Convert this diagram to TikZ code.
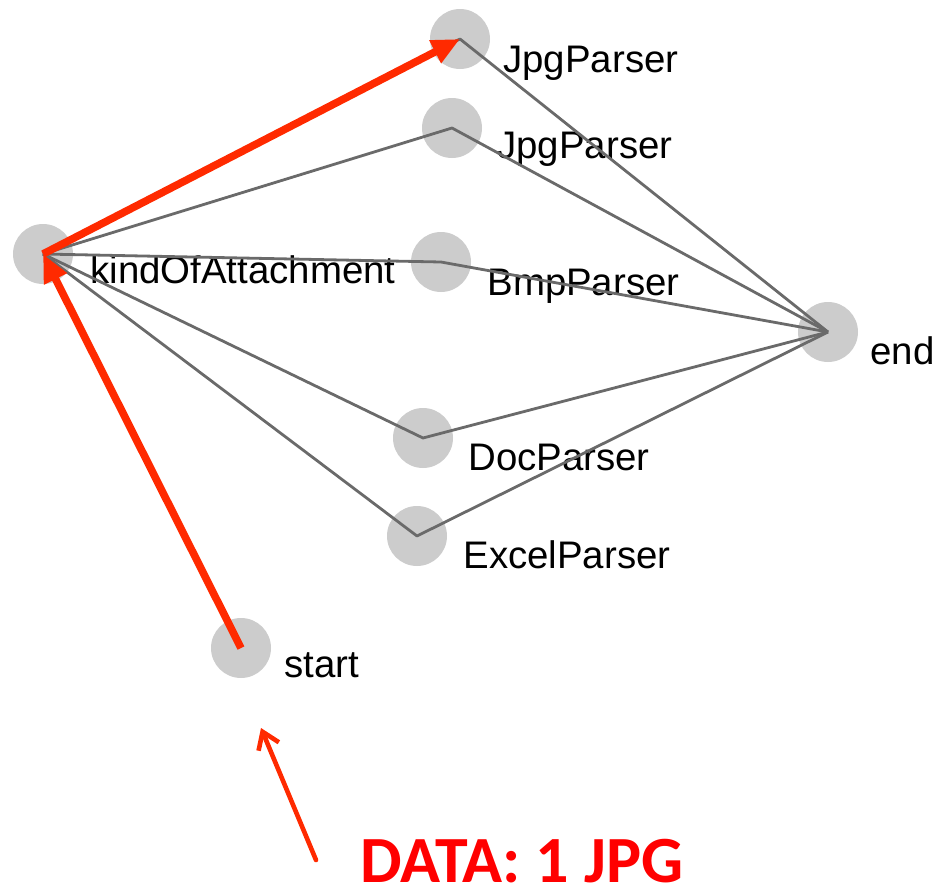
\documentclass[tikz,border=0pt]{standalone}
\usepackage{fontspec}
\setmainfont{Liberation Sans}
\newfontfamily\calloutfont{Carlito}
\usetikzlibrary{arrows.meta}
\definecolor{dotgray}{HTML}{CCCCCC}
\definecolor{edgegray}{HTML}{6A6A6A}
\definecolor{markred}{HTML}{FF2A00}
\definecolor{callred}{HTML}{FF0000}
\begin{document}
\begin{tikzpicture}[x=0.5pt,y=-0.5pt,
  dot/.style={circle,fill=dotgray,minimum size=30pt,inner sep=0pt},
  lbl/.style={anchor=base west,inner sep=0pt,font=\fontsize{19.2}{23}\selectfont},
  edge/.style={draw=edgegray,line width=1.4pt,line join=round},
  hl/.style={draw=markred,line width=3.8pt,-{Triangle[length=14pt,width=12pt]}},
  hint/.style={draw=markred,line width=2.3pt,line cap=round,-{Straight Barb[length=8pt,width=11pt,line width=2.3pt]}}]
\useasboundingbox (0,0) rectangle (938,889);

% vertices of the workflow graph
\node[dot] (kind)  at (43,254)  {};
\node[dot] (jpga)  at (460,39)  {};
\node[dot] (jpgb)  at (452,128) {};
\node[dot] (bmp)   at (441,262) {};
\node[dot] (doc)   at (423,438) {};
\node[dot] (xls)   at (417,536) {};
\node[dot] (fin)   at (828,332) {};
\node[dot] (start) at (241,648) {};

% vertex labels
\node[lbl] (kindl)  at (90,283)  {kindOfAttachment};
\node[lbl] (jpgal)  at (503,72)  {JpgParser};
\node[lbl] (jpgbl)  at (497,158) {JpgParser};
\node[lbl] (bmpl)   at (487,295) {BmpParser};
\node[lbl] (docl)   at (468,470) {DocParser};
\node[lbl] (xlsl)   at (463,568) {ExcelParser};
\node[lbl] (finl)   at (870,364) {end};
\node[lbl] (startl) at (284,677) {start};

% branches through each parser to the end vertex
\foreach \p in {jpga,jpgb,bmp,doc,xls}
  \draw[edge] (kind.center) -- (\p.center) -- (fin.center);

% highlighted path taken by the data
\draw[hl] (start.center) -- (kind.center);
\draw[hl] (kind.center) -- (jpga.center);

% callout
\coordinate (hinttail) at (316,860);
\coordinate (hinttip)  at (261,728);
\draw[hint] (hinttail) -- (hinttip);
\node[anchor=base west,inner sep=0pt,text=callred,
      font=\calloutfont\bfseries\fontsize{33}{38}\selectfont] (data) at (360,882) {DATA: 1 JPG};
\end{tikzpicture}
\end{document}
